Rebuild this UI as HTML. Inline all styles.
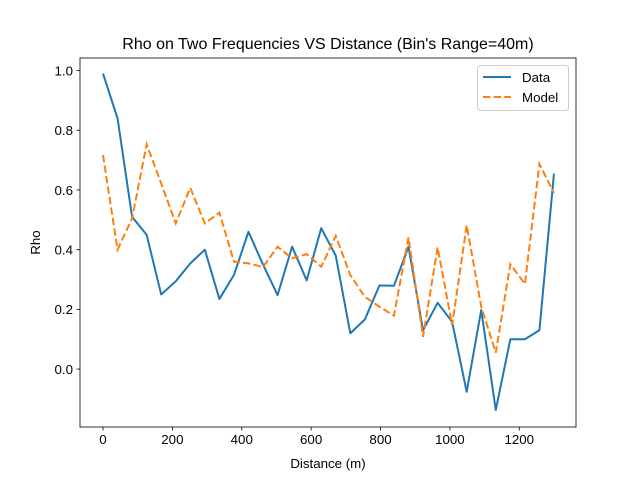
<!DOCTYPE html>
<html><head><meta charset="utf-8"><style>
body{margin:0;background:#fff;}
svg{display:block;font-family:"Liberation Sans","DejaVu Sans",sans-serif;}
</style></head><body>
<svg id="chart" width="640" height="480"></svg>
<script>
const xValuesMax = 1300;
const pointCount = 32;
const dataSeries = [0.99,0.84,0.51,0.45,0.25,0.294,0.354,0.40,0.235,0.315,0.46,0.35,0.248,0.41,0.297,0.472,0.38,0.12,0.166,0.28,0.279,0.41,0.13,0.222,0.158,-0.076,0.198,-0.137,0.10,0.10,0.13,0.655];
const modelSeries = [0.717,0.40,0.505,0.753,0.622,0.488,0.607,0.488,0.524,0.36,0.354,0.342,0.41,0.371,0.385,0.343,0.446,0.315,0.242,0.209,0.179,0.441,0.108,0.408,0.147,0.482,0.209,0.055,0.352,0.285,0.687,0.589];
const xTicks = [0,200,400,600,800,1000,1200];
const yTicks = [0.0,0.2,0.4,0.6,0.8,1.0];
const yTickLabels = ["0.0","0.2","0.4","0.6","0.8","1.0"];

const L=80,R=576,T=58,B=427;
const xMin=-66.3,xMax=1363.5,yMin=-0.194,yMax=1.042;
const sx=v=>L+(v-xMin)/(xMax-xMin)*(R-L);
const sy=v=>B-(v-yMin)/(yMax-yMin)*(B-T);
const NS="http://www.w3.org/2000/svg";
const svg=document.getElementById('chart');
function mk(tag,attrs,parent){const e=document.createElementNS(NS,tag);for(const k in attrs)e.setAttribute(k,attrs[k]);(parent||svg).appendChild(e);return e;}
const xs=dataSeries.map((_,i)=>i*xValuesMax/(pointCount-1));

const title=mk('text',{x:328,y:49,'text-anchor':'middle','font-size':16,fill:'#000'});


title.textContent="Rho on Two Frequencies VS Distance (Bin's Range=40m)";

xTicks.forEach(t=>{
  const g=mk('g',{});
  
  
  mk('line',{x1:sx(t),x2:sx(t),y1:B,y2:B+3.5,stroke:'#000','stroke-width':0.8},g);
  const tx=mk('text',{x:sx(t),y:B+17,'text-anchor':'middle','font-size':13.3},g);
  tx.textContent=String(t);
});
yTicks.forEach((t,i)=>{
  const g=mk('g',{});
  
  
  mk('line',{x1:L-3.5,x2:L,y1:sy(t),y2:sy(t),stroke:'#000','stroke-width':0.8},g);
  const tx=mk('text',{x:L-7,y:sy(t)+4.8,'text-anchor':'end','font-size':13.3},g);
  tx.textContent=yTickLabels[i];
});
const xl=mk('text',{x:328,y:468,'text-anchor':'middle','font-size':13.3});


xl.textContent="Distance (m)";
const yl=mk('text',{x:0,y:0,'text-anchor':'middle','font-size':13.3,transform:`translate(40,${(T+B)/2}) rotate(-90)`});


yl.textContent="Rho";

const dp=mk('polyline',{points:dataSeries.map((v,i)=>sx(xs[i])+','+sy(v)).join(' '),fill:'none',stroke:'#1f77b4','stroke-width':2,'stroke-linejoin':'round'});


const mp=mk('polyline',{points:modelSeries.map((v,i)=>sx(xs[i])+','+sy(v)).join(' '),fill:'none',stroke:'#ff7f0e','stroke-width':2,'stroke-dasharray':'7.4,3.2'});



const frame=mk('rect',{x:L,y:T,width:R-L,height:B-T,fill:'none',stroke:'#000','stroke-width':0.8});



const lg=mk('g',{});


mk('rect',{x:477.5,y:65.5,width:91,height:45,rx:3,fill:'#fff',stroke:'#ccc','stroke-width':1},lg);
const e1=mk('g',{},lg);


mk('line',{x1:483,x2:511,y1:77,y2:77,stroke:'#1f77b4','stroke-width':2},e1);
const t1=mk('text',{x:522,y:82,'font-size':13.3},e1);t1.textContent="Data";
const e2=mk('g',{},lg);


mk('line',{x1:483,x2:511,y1:97,y2:97,stroke:'#ff7f0e','stroke-width':2,'stroke-dasharray':'7.4,3.2'},e2);
const t2=mk('text',{x:522,y:102,'font-size':13.3},e2);t2.textContent="Model";
</script>
</body></html>
